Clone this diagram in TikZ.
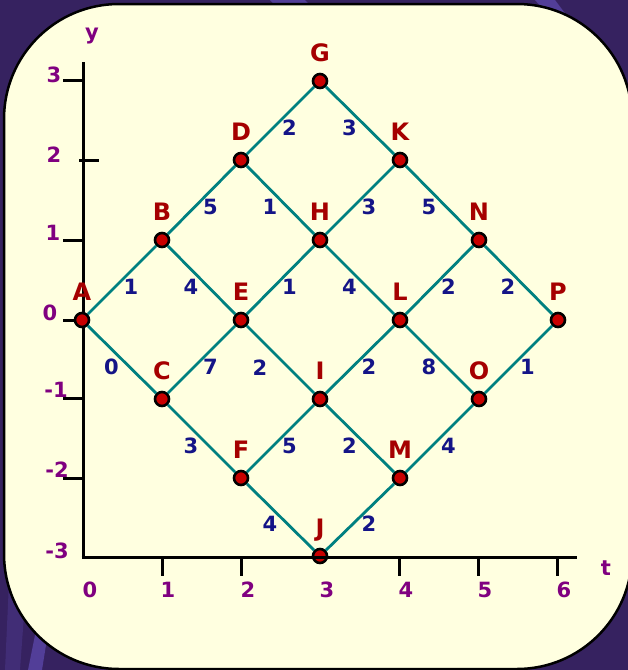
\documentclass[tikz,border=0pt]{standalone}
\usepackage{fontspec}
\setmainfont{DejaVu Sans}
\definecolor{bgpurple}{RGB}{54,34,96}
\definecolor{bgstreak}{RGB}{82,62,152}
\definecolor{panel}{RGB}{255,255,224}
\definecolor{labred}{RGB}{165,0,0}
\definecolor{nodered}{RGB}{200,0,0}
\definecolor{wblue}{RGB}{20,20,135}
\definecolor{axpurple}{RGB}{128,0,128}
\definecolor{edgeteal}{RGB}{0,128,128}
\begin{document}
\begin{tikzpicture}[x=1pt,y=-1pt,
  vtx/.style={circle, draw=black, line width=2.6pt, fill=nodered, inner sep=0pt, minimum size=14pt},
  lab/.style={font=\bfseries\fontsize{24}{24}\selectfont, text=labred, inner sep=0pt, text height=17.5pt, text depth=0pt},
  vlab/.style={label={[lab, label distance=11.5pt]above:#1}},
  conn/.style={draw=edgeteal, line width=2.8pt},
  w/.style={font=\bfseries\fontsize{21}{21}\selectfont, text=wblue, inner sep=0pt},
  wu/.style={w, xshift=9pt, yshift=-7pt},
  wd/.style={w, xshift=-10.5pt, yshift=-7pt},
  ax/.style={font=\bfseries\fontsize{21}{21}\selectfont, text=axpurple, inner sep=0pt},
  axline/.style={draw=black, line width=3pt}]
\useasboundingbox (0,0) rectangle (628,670);
% background
\fill[bgpurple] (0,0) rectangle (628,670);
\fill[bgstreak] (535,0) -- (555,0) -- (585,40) -- (570,40) -- cycle;
\fill[bgstreak] (270,0) -- (305,0) -- (315,10) -- (280,10) -- cycle;
\fill[bgstreak] (38,620) -- (50,620) -- (42,670) -- (28,670) -- cycle;
\fill[bgstreak!40!bgpurple] (10,560) -- (28,560) -- (20,670) -- (5,670) -- cycle;
% panel
\draw[fill=panel, draw=black, line width=2.5pt, rounded corners=115pt] (4,4) rectangle (632,669);
% vertical axis
\draw[axline] (83,62) -- (83,558.5);
\foreach \yy in {80,240,320,398,478} \draw[axline] (63,\yy) -- (83,\yy);
\draw[axline] (79,160) -- (99,160);
% vertices
\node[vtx, vlab=A] (A) at (82,320) {};
\node[vtx, vlab=B] (B) at (162,240) {};
\node[vtx, vlab=C] (C) at (162,399) {};
\node[vtx, vlab=D] (D) at (241,160) {};
\node[vtx, vlab=E] (E) at (241,320) {};
\node[vtx, vlab=F] (F) at (241,478) {};
\node[vtx, vlab=G] (G) at (320,81) {};
\node[vtx, vlab=H] (H) at (320,240) {};
\node[vtx, vlab=I] (I) at (320,399) {};
\node[vtx, vlab=J] (J) at (320,556) {};
\node[vtx, vlab=K] (K) at (400,160) {};
\node[vtx, vlab=L] (L) at (400,320) {};
\node[vtx, vlab=M] (M) at (400,478) {};
\node[vtx, vlab=N] (N) at (479,240) {};
\node[vtx, vlab=O] (O) at (479,399) {};
\node[vtx, vlab=P] (P) at (558,320) {};
% connectors
\draw[conn] (A) -- node[wu]{1} (B);
\draw[conn] (B) -- node[wd]{4} (E);
\draw[conn] (A) -- node[wd]{0} (C);
\draw[conn] (C) -- node[wu]{7} (E);
\draw[conn] (E) -- node[pos=0.41, w, xshift=-14.5pt, yshift=-14.5pt]{2} (I);
\draw[conn] (C) -- node[wd]{3} (F);
\draw[conn] (F) -- node[wu]{5} (I);
\draw[conn] (I) -- node[wd]{2} (M);
\draw[conn] (F) -- node[wd]{4} (J);
\draw[conn] (J) -- node[wu]{2} (M);
\draw[conn] (B) -- node[wu]{5} (D);
\draw[conn] (D) -- node[wd]{1} (H);
\draw[conn] (D) -- node[wu]{2} (G);
\draw[conn] (G) -- node[wd]{3} (K);
\draw[conn] (H) -- node[wu]{3} (K);
\draw[conn] (K) -- node[wd]{5} (N);
\draw[conn] (E) -- node[wu]{1} (H);
\draw[conn] (H) -- node[wd]{4} (L);
\draw[conn] (L) -- node[wu]{2} (N);
\draw[conn] (N) -- node[wd]{2} (P);
\draw[conn] (I) -- node[wu]{2} (L);
\draw[conn] (L) -- node[wd]{8} (O);
\draw[conn] (O) -- node[wu]{1} (P);
\draw[conn] (M) -- node[wu]{4} (O);
% horizontal axis (drawn over J)
\draw[axline] (81.5,557) -- (577,557);
\foreach \xx in {162,241,399,478,557} \draw[axline] (\xx,557) -- (\xx,576);
% axis labels
\node[ax] (ylab) at (92,36) {y};
\node[ax] (tlab) at (606,568) {t};
\node[ax] (y3) at (54,75) {3};
\node[ax] (y2) at (54,155) {2};
\node[ax] (y1) at (53,233) {1};
\node[ax] (y0) at (50,313) {0};
\node[ax] (ym1) at (56,390) {-1};
\node[ax] (ym2) at (57,470) {-2};
\node[ax] (ym3) at (57,551) {-3};
\node[ax] (x0) at (90,590) {0};
\node[ax] (x1) at (168,590) {1};
\node[ax] (x2) at (248,590) {2};
\node[ax] (x3) at (327,590) {3};
\node[ax] (x4) at (406,590) {4};
\node[ax] (x5) at (485,590) {5};
\node[ax] (x6) at (564,590) {6};
\end{tikzpicture}
\end{document}
